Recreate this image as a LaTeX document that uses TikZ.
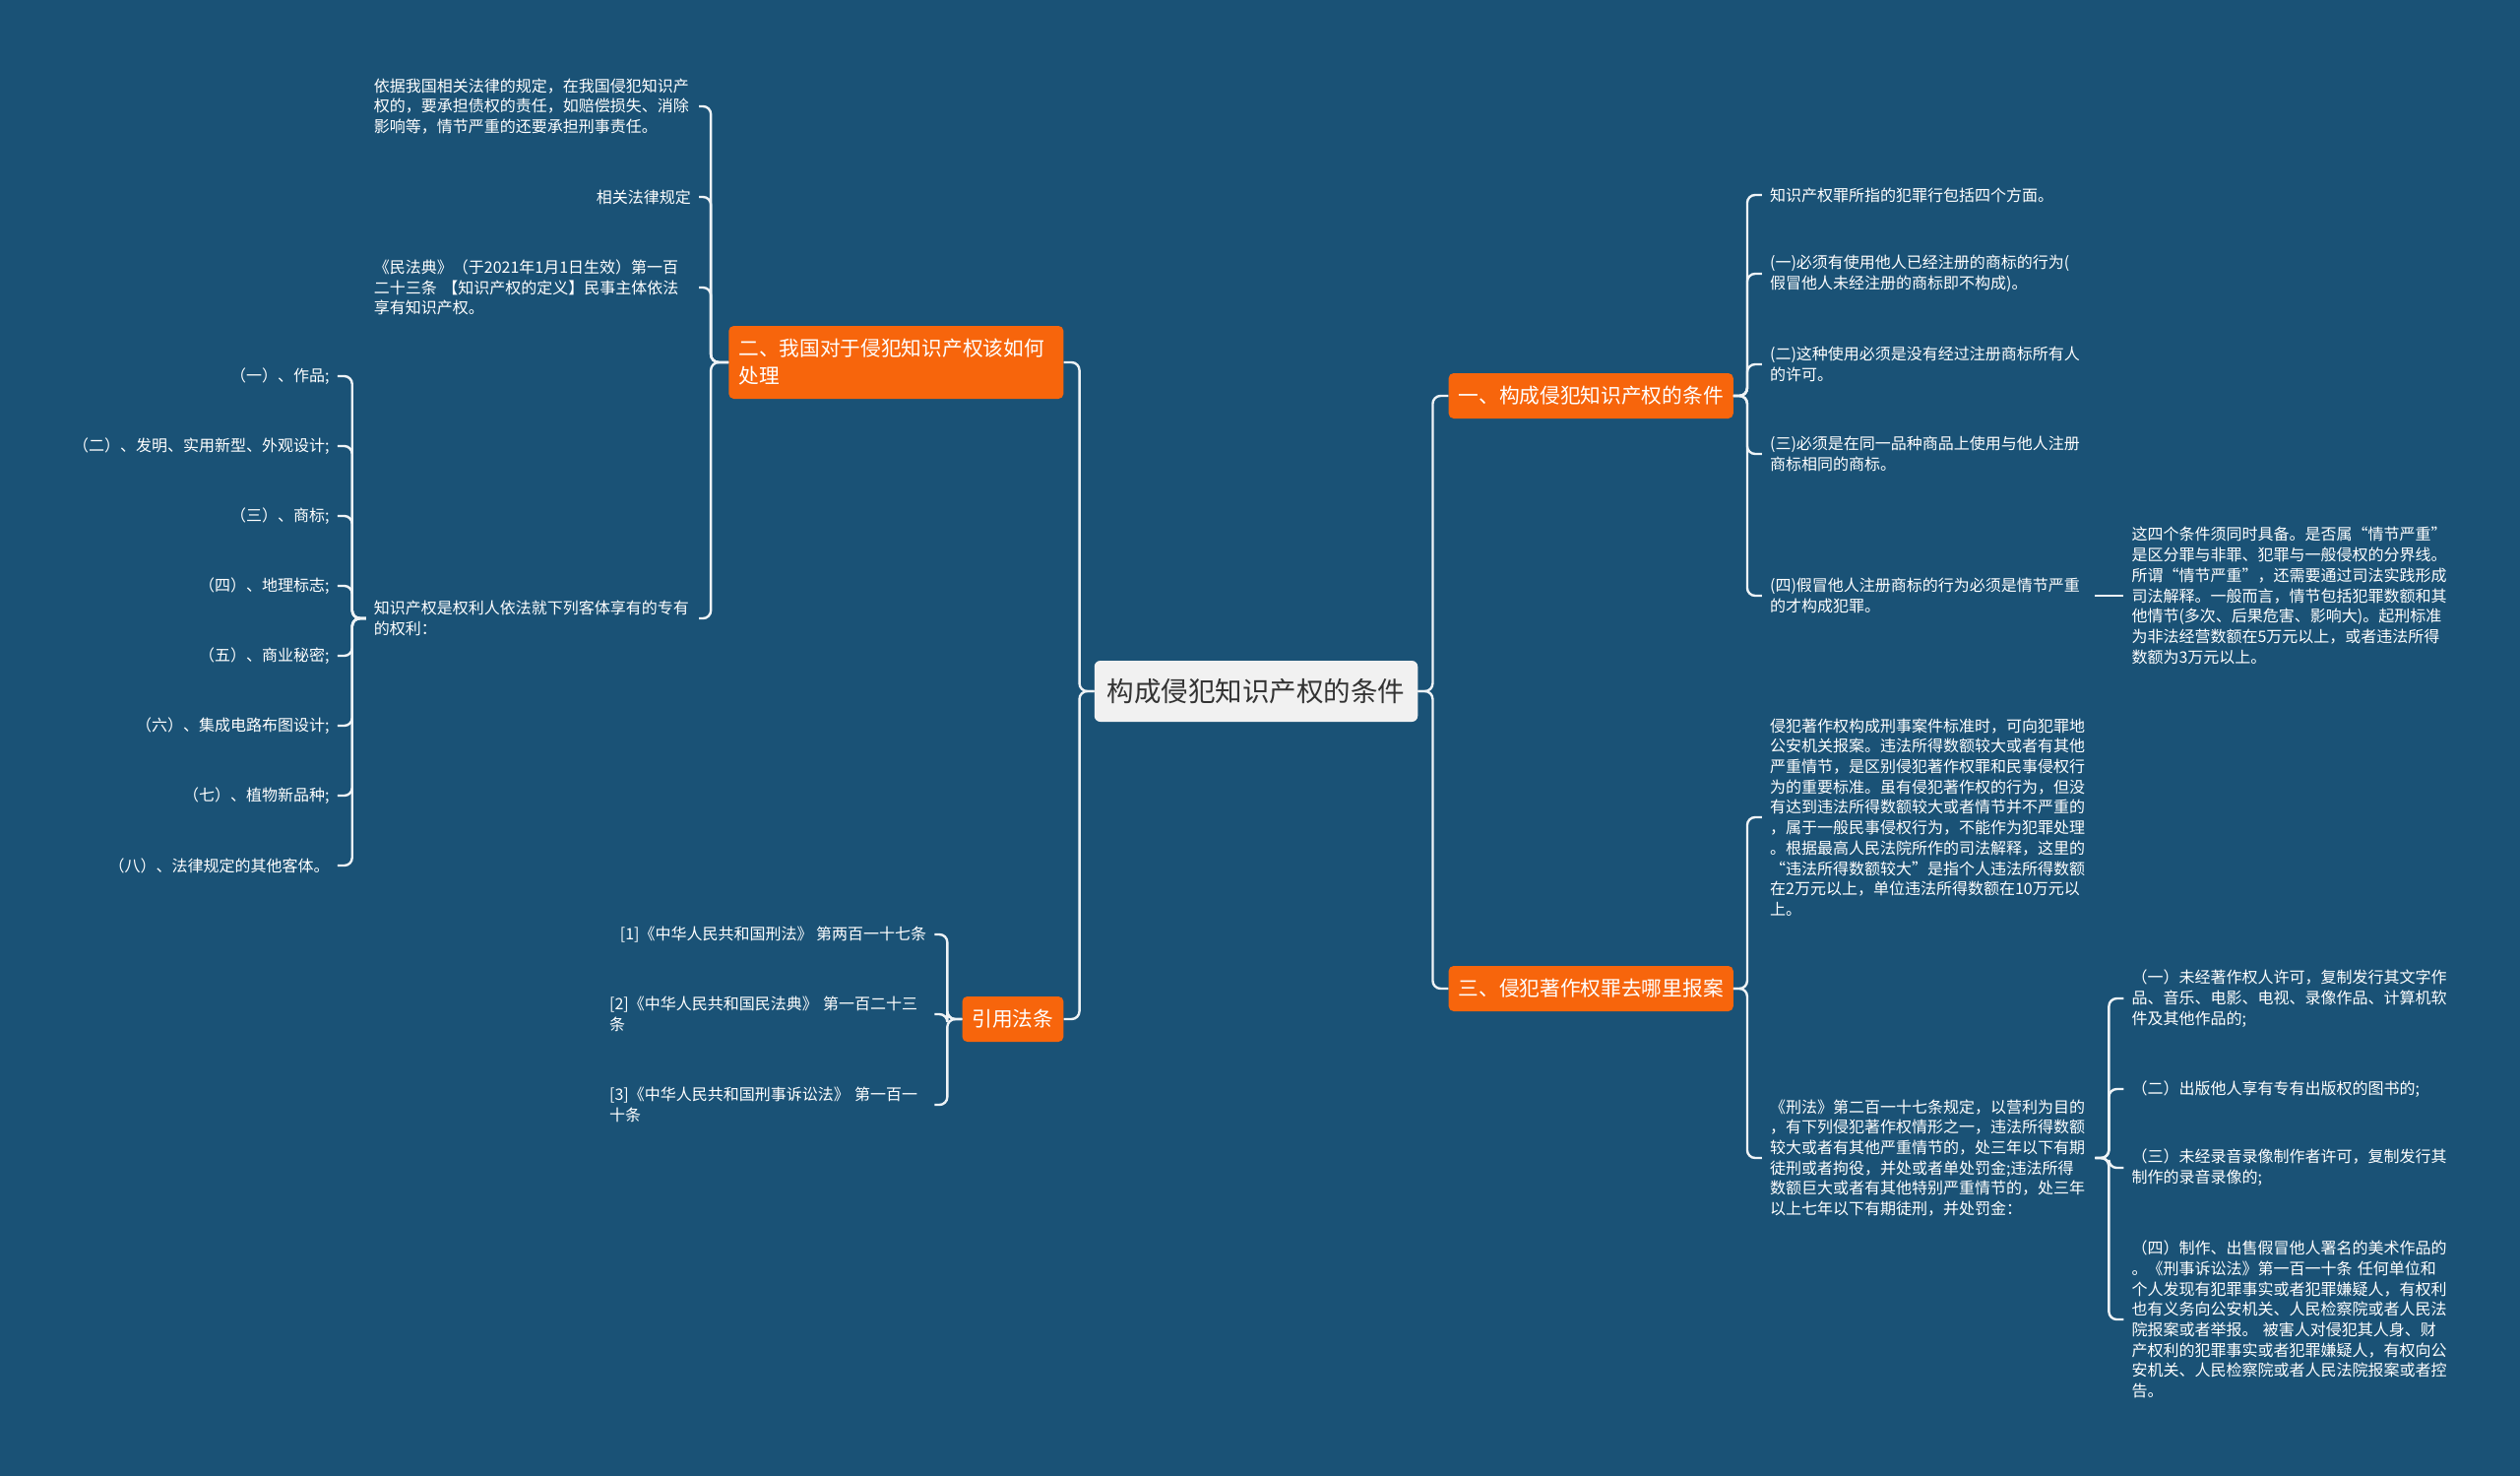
\documentclass[tikz,border=0pt]{standalone}
\usepackage{fontspec}
\setmainfont{Noto Sans CJK SC}
\usepackage{tikz}
\usetikzlibrary{positioning}
\definecolor{mapblue}{HTML}{1A5276}
\definecolor{topicorange}{HTML}{F7650C}
\definecolor{rootgrey}{HTML}{F1F1F1}
\definecolor{rootink}{HTML}{333333}
\definecolor{linewhite}{HTML}{EEF3F6}

\begin{document}
\begin{tikzpicture}[
  x=1pt, y=-1pt,
  root/.style={fill=rootgrey, text=rootink, rounded corners=6pt,
               minimum height=62pt, inner xsep=13pt,
               font=\fontsize{27.5}{33}\selectfont},
  topic/.style={fill=topicorange, text=white, rounded corners=5pt,
                minimum height=46pt, inner xsep=10pt, align=left,
                font=\fontsize{20.7}{28}\selectfont},
  leaf/.style={text=white, align=left, inner xsep=8pt, inner ysep=3pt,
               font=\fontsize{16}{20.7}\selectfont},
  wrap/.style={leaf, text width=322pt},
  link/.style={draw=linewhite, line width=2.4pt, rounded corners=8pt}]
\fill[mapblue] (0,0) rectangle (2560,1499);
\useasboundingbox (0,0) rectangle (2560,1499);
% centre and main topics
\node[root] (root) at (1276,702) {构成侵犯知识产权的条件};
\node[topic, right=31pt of root, yshift=300pt] (n1) {一、构成侵犯知识产权的条件};
\node[topic, right=31pt of root, yshift=-302pt] (n3) {三、侵犯著作权罪去哪里报案};
\node[topic, left=31pt of root, yshift=334pt, minimum height=74pt,
      text width=320pt] (n2) {二、我国对于侵犯知识产权该如何\\处理};
\node[topic, left=31pt of root, yshift=-333pt] (n4) {引用法条};
\draw[link] (root.east) -- ++(15,0) |- (n1.west);
\draw[link] (root.east) -- ++(15,0) |- (n3.west);
\draw[link] (root.west) -- ++(-15,0) |- (n2.east);
\draw[link] (root.west) -- ++(-15,0) |- (n4.east);
% topic one
\node[leaf, right=29pt of n1, yshift=204pt] (c11) {知识产权罪所指的犯罪行包括四个方面。};
\node[wrap, right=29pt of n1, yshift=124pt] (c12) {(一)必须有使用他人已经注册的商标的行为(\\
  假冒他人未经注册的商标即不构成)。};
\node[wrap, right=29pt of n1, yshift=32pt] (c13) {(二)这种使用必须是没有经过注册商标所有人\\
  的许可。};
\node[wrap, right=29pt of n1, yshift=-59pt] (c14) {(三)必须是在同一品种商品上使用与他人注册\\
  商标相同的商标。};
\node[wrap, right=29pt of n1, yshift=-203pt] (c15) {(四)假冒他人注册商标的行为必须是情节严重\\
  的才构成犯罪。};
\node[wrap, right=29pt of c15] (d1) {这四个条件须同时具备。是否属“情节严重”\\
  是区分罪与非罪、犯罪与一般侵权的分界线。\\
  所谓“情节严重”，还需要通过司法实践形成\\
  司法解释。一般而言，情节包括犯罪数额和其\\
  他情节(多次、后果危害、影响大)。起刑标准\\
  为非法经营数额在5万元以上，或者违法所得\\
  数额为3万元以上。};
\draw[link] (n1.east) -- ++(14,0) |- (c11.west);
\draw[link] (n1.east) -- ++(14,0) |- (c12.west);
\draw[link] (n1.east) -- ++(14,0) |- (c13.west);
\draw[link] (n1.east) -- ++(14,0) |- (c14.west);
\draw[link] (n1.east) -- ++(14,0) |- (c15.west);
\draw[link] (c15.east) -- (d1.west);
% topic three
\node[wrap, right=29pt of n3, yshift=174pt] (t1) {侵犯著作权构成刑事案件标准时，可向犯罪地\\
  公安机关报案。违法所得数额较大或者有其他\\
  严重情节，是区别侵犯著作权罪和民事侵权行\\
  为的重要标准。虽有侵犯著作权的行为，但没\\
  有达到违法所得数额较大或者情节并不严重的\\
  ，属于一般民事侵权行为，不能作为犯罪处理\\
  。根据最高人民法院所作的司法解释，这里的\\
  “违法所得数额较大”是指个人违法所得数额\\
  在2万元以上，单位违法所得数额在10万元以\\
  上。};
\node[wrap, right=29pt of n3, yshift=-172pt] (t2) {《刑法》第二百一十七条规定，以营利为目的\\
  ，有下列侵犯著作权情形之一，违法所得数额\\
  较大或者有其他严重情节的，处三年以下有期\\
  徒刑或者拘役，并处或者单处罚金;违法所得\\
  数额巨大或者有其他特别严重情节的，处三年\\
  以上七年以下有期徒刑，并处罚金：};
\node[wrap, right=29pt of t2, yshift=162pt] (u1) {（一）未经著作权人许可，复制发行其文字作\\
  品、音乐、电影、电视、录像作品、计算机软\\
  件及其他作品的;};
\node[leaf, right=29pt of t2, yshift=70pt] (u2) {（二）出版他人享有专有出版权的图书的;};
\node[wrap, right=29pt of t2, yshift=-10pt] (u3) {（三）未经录音录像制作者许可，复制发行其\\
  制作的录音录像的;};
\node[wrap, right=29pt of t2, yshift=-164pt] (u4) {（四）制作、出售假冒他人署名的美术作品的\\
  。《刑事诉讼法》第一百一十条 任何单位和\\
  个人发现有犯罪事实或者犯罪嫌疑人，有权利\\
  也有义务向公安机关、人民检察院或者人民法\\
  院报案或者举报。 被害人对侵犯其人身、财\\
  产权利的犯罪事实或者犯罪嫌疑人，有权向公\\
  安机关、人民检察院或者人民法院报案或者控\\
  告。};
\draw[link] (n3.east) -- ++(14,0) |- (t1.west);
\draw[link] (n3.east) -- ++(14,0) |- (t2.west);
\draw[link] (t2.east) -- ++(14,0) |- (u1.west);
\draw[link] (t2.east) -- ++(14,0) |- (u2.west);
\draw[link] (t2.east) -- ++(14,0) |- (u3.west);
\draw[link] (t2.east) -- ++(14,0) |- (u4.west);
% topic two
\node[wrap, left=30pt of n2, yshift=260pt] (l1) {依据我国相关法律的规定，在我国侵犯知识产\\
  权的，要承担债权的责任，如赔偿损失、消除\\
  影响等，情节严重的还要承担刑事责任。};
\node[leaf, left=30pt of n2, yshift=168pt] (l2) {相关法律规定};
\node[wrap, left=30pt of n2, yshift=76pt] (l3) {《民法典》（于2021年1月1日生效）第一百\\
  二十三条 【知识产权的定义】民事主体依法\\
  享有知识产权。};
\node[wrap, left=30pt of n2, yshift=-260pt] (l4) {知识产权是权利人依法就下列客体享有的专有\\
  的权利：};
\draw[link] (n2.west) -- ++(-18,0) |- (l1.east);
\draw[link] (n2.west) -- ++(-18,0) |- (l2.east);
\draw[link] (n2.west) -- ++(-18,0) |- (l3.east);
\draw[link] (n2.west) -- ++(-18,0) |- (l4.east);
\node[leaf, left=29pt of l4, yshift=246pt] (k1) {（一）、作品;};
\node[leaf, left=29pt of l4, yshift=175pt] (k2) {（二）、发明、实用新型、外观设计;};
\node[leaf, left=29pt of l4, yshift=104pt] (k3) {（三）、商标;};
\node[leaf, left=29pt of l4, yshift=33pt] (k4) {（四）、地理标志;};
\node[leaf, left=29pt of l4, yshift=-38pt] (k5) {（五）、商业秘密;};
\node[leaf, left=29pt of l4, yshift=-109pt] (k6) {（六）、集成电路布图设计;};
\node[leaf, left=29pt of l4, yshift=-180pt] (k7) {（七）、植物新品种;};
\node[leaf, left=29pt of l4, yshift=-251pt] (k8) {（八）、法律规定的其他客体。};
\draw[link] (l4.west) -- ++(-14,0) |- (k1.east);
\draw[link] (l4.west) -- ++(-14,0) |- (k2.east);
\draw[link] (l4.west) -- ++(-14,0) |- (k3.east);
\draw[link] (l4.west) -- ++(-14,0) |- (k4.east);
\draw[link] (l4.west) -- ++(-14,0) |- (k5.east);
\draw[link] (l4.west) -- ++(-14,0) |- (k6.east);
\draw[link] (l4.west) -- ++(-14,0) |- (k7.east);
\draw[link] (l4.west) -- ++(-14,0) |- (k8.east);
% cited laws
\node[leaf, left=28pt of n4, yshift=86pt] (r1) {[1]《中华人民共和国刑法》 第两百一十七条};
\node[wrap, left=28pt of n4, yshift=5pt] (r2) {[2]《中华人民共和国民法典》 第一百二十三\\
  条};
\node[wrap, left=28pt of n4, yshift=-87pt] (r3) {[3]《中华人民共和国刑事诉讼法》 第一百一\\
  十条};
\draw[link] (n4.west) -- ++(-15,0) |- (r1.east);
\draw[link] (n4.west) -- ++(-15,0) |- (r2.east);
\draw[link] (n4.west) -- ++(-15,0) |- (r3.east);
\end{tikzpicture}
\end{document}
